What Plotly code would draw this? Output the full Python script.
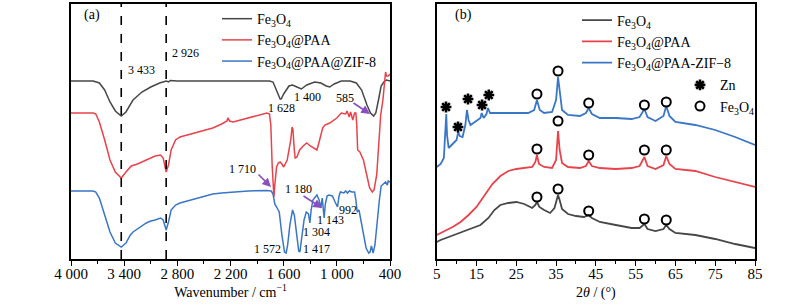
import plotly.graph_objects as go

# ---------------- FTIR data (panel a) ----------------
ftir_fe_wn = [4000, 3750, 3680, 3620, 3560, 3500, 3433, 3380, 3300, 3200, 3100, 3000, 2926, 2900, 2880, 2800,
              2000, 1760, 1720, 1680, 1640, 1628, 1600, 1540, 1500, 1450, 1400, 1340, 1250, 1180, 1120, 1080,
              1030, 950, 850, 780, 720, 660, 620, 585, 560, 530, 500, 470, 440, 400]
ftir_fe_t = [178, 178, 176, 169, 157, 148, 143, 147, 159, 167, 172, 176, 178, 177, 178.5, 178,
             178, 178, 177, 169, 160, 160, 165, 173, 174, 172, 170, 174, 177, 176, 173, 172,
             175, 178, 178, 176, 169, 154, 146, 143, 146, 159, 173, 177, 179, 178]

ftir_paa_wn = [4000, 3750, 3720, 3680, 3620, 3560, 3500, 3433, 3380, 3320, 3250, 3200, 3120, 3050, 2990, 2960,
               2926, 2900, 2870, 2820, 2770, 2650, 2545, 2400, 2300, 2240, 2230, 2210, 2170, 2000, 1900, 1790,
               1760, 1745, 1730, 1715, 1710, 1700, 1680, 1660, 1640, 1620, 1600, 1560, 1520, 1505, 1495, 1480,
               1470, 1450, 1420, 1380, 1340, 1300, 1260, 1225, 1200, 1160, 1135, 1080, 1000, 950, 900, 885,
               860, 845, 820, 800, 785, 775, 765, 740, 700, 660, 630, 600, 580, 550, 520, 505,
               480, 460, 450, 440, 420, 400]
ftir_paa_t = [146, 146, 145, 137, 119, 99, 87, 81, 87, 93, 95, 97, 101, 103, 104, 101,
              87, 94, 109, 119, 122, 125, 127, 131, 135, 138, 141, 138, 137, 141, 144, 146,
              145, 134, 94, 64, 62, 74, 92, 96, 97, 95, 92, 99, 119, 132, 129, 109,
              101, 102, 109, 113, 116, 113, 111, 109, 117, 131, 134, 136, 141, 146, 145, 148,
              142, 147, 139, 146, 146, 134, 109, 107, 99, 81, 71, 67, 69, 84, 119, 144,
              159, 184, 187, 183, 183, 185]

ftir_zif_wn = [4000, 3750, 3720, 3680, 3620, 3560, 3500, 3433, 3380, 3330, 3300, 3250, 3200, 3150, 3100, 3050,
               2990, 2960, 2926, 2900, 2870, 2820, 2770, 2650, 2545, 2400, 2300, 2170, 2000, 1800, 1740, 1720,
               1700, 1680, 1650, 1620, 1590, 1572, 1555, 1530, 1500, 1480, 1450, 1430, 1417, 1400, 1370, 1345,
               1320, 1304, 1290, 1270, 1240, 1225, 1200, 1180, 1165, 1155, 1143, 1130, 1110, 1090, 1050, 1020,
               992, 975, 960, 920, 900, 880, 860, 830, 800, 785, 770, 750, 740, 720, 700, 670,
               640, 625, 610, 590, 570, 550, 520, 500, 470, 450, 430, 420, 400]
ftir_zif_t = [68, 68, 67, 61, 44, 27, 16, 12, 16, 24, 27, 30, 33, 36, 38, 39,
              41, 39, 29, 37, 49, 54, 56, 59, 62, 65, 66, 67, 68, 68.5, 68, 65,
              55, 52, 47, 24, 7, 6, 14, 34, 49, 44, 19, 8, 7, 19, 39, 47,
              45, 36, 49, 59, 63, 64, 59, 51, 61, 54, 41, 55, 63, 64, 63, 57,
              52, 63, 67, 66, 68, 66, 68, 67, 67, 59, 47, 49, 44, 37, 24, 11,
              6, 7, 13, 6, 14, 34, 59, 73, 76, 77, 74, 78, 77]

ftir_tickvals = [4000, 3400, 2800, 2200, 1600, 1000, 400]
ftir_ticktext = ["4 000", "3 400", "2 800", "2 200", "1 600", "1 000", "400"]
ftir_minor = [3700, 3100, 2500, 1900, 1300, 700]
ftir_dashed = [3433, 2926]

# ---------------- XRD data (panel b) ----------------
xrd_fe_2t = [5, 6, 8, 10, 12, 14, 16, 18, 19.5, 21, 23, 25, 27, 29, 29.8, 30.2, 30.8, 32, 33.5, 34.6, 35.2, 35.5,
             35.9, 36.5, 38, 40, 42, 43.2, 44, 46, 50, 54, 56, 57.2, 58, 60, 62, 62.7, 63.5, 65, 70, 75, 80, 85]
xrd_fe_i = [17, 19, 22, 25, 28, 31, 34, 41, 49, 54, 56, 57, 55, 51, 54, 57, 52, 49, 46, 51, 61, 64,
            59, 50, 45, 43, 42, 44, 41, 37, 34, 31, 31, 35, 30, 28, 30, 34, 30, 26, 24, 20, 15, 11]

xrd_paa_2t = [5, 7, 9, 11, 13, 15, 17, 19, 21, 23, 25, 27, 29, 29.8, 30.2, 30.7, 32, 34, 35, 35.5, 35.9, 36.5,
              38, 41, 42.5, 43.2, 44, 46, 50, 54, 56, 57.2, 58, 60, 62, 62.7, 63.5, 65, 70, 75, 80, 85]
xrd_paa_i = [24, 28, 32, 37, 44, 52, 63, 75, 83, 88, 90, 91, 92, 97, 104, 95, 92, 91, 99, 128, 109, 96,
             92, 91, 93, 98, 93, 91, 90, 91, 93, 102, 93, 90, 94, 103, 95, 90, 88, 82, 77, 72]

xrd_zif_2t = [5, 6, 6.8, 7.2, 7.4, 7.6, 8, 9, 10, 10.4, 10.8, 11.5, 12.2, 12.6, 13, 13.5, 15, 16, 16.3, 16.8,
              17.5, 17.9, 18.4, 19, 22, 25, 28, 29.5, 30.2, 30.9, 32, 34, 35, 35.5, 35.9, 36.5, 38, 41, 42.5,
              43.2, 44, 46, 50, 54, 56, 57.2, 58, 60, 62, 62.7, 63.5, 65, 70, 75, 80, 85]
xrd_zif_i = [92, 95, 101, 134, 145, 124, 111, 115, 119, 127, 123, 122, 134, 149, 139, 134, 138, 141, 146, 141,
             145, 151, 146, 146, 146, 146, 146, 149, 159, 149, 146, 147, 159, 182, 167, 149, 144, 143, 146,
             151, 145, 141, 141, 140, 142, 150, 142, 138, 143, 153, 143, 137, 134, 129, 122, 114]

zn_2t = [7.34, 10.35, 12.87, 16.4, 18.1]
zn_i = [152, 132, 160, 154, 164]
fe_peak_2t = [30.2, 35.5, 43.2, 57.2, 62.7]
fe_mark_fe = [62, 70, 48, 40, 39]
fe_mark_paa = [110, 138, 104, 109, 109]
fe_mark_zif = [165, 188, 156, 154, 157]

xrd_tickvals = [5, 15, 25, 35, 45, 55, 65, 75, 85]
xrd_minor = [10, 20, 30, 40, 50, 60, 70, 80]

# ---------------- styles ----------------
C_BLACK = "#474747"
C_RED = "#e8434a"
C_BLUE = "#3a76c6"
C_PURPLE = "#8a4fbf"
FONT = "Liberation Serif"

fig = go.Figure()

names = ["Fe<sub>3</sub>O<sub>4</sub>", "Fe<sub>3</sub>O<sub>4</sub>@PAA", "Fe<sub>3</sub>O<sub>4</sub>@PAA@ZIF-8"]
for wn, t, c, n in [(ftir_fe_wn, ftir_fe_t, C_BLACK, names[0]),
                    (ftir_paa_wn, ftir_paa_t, C_RED, names[1]),
                    (ftir_zif_wn, ftir_zif_t, C_BLUE, names[2])]:
    fig.add_trace(go.Scatter(x=wn, y=t, mode="lines", line=dict(color=c, width=1.5),
                             name=n, legend="legend", xaxis="x", yaxis="y"))

names2 = ["Fe<sub>3</sub>O<sub>4</sub>", "Fe<sub>3</sub>O<sub>4</sub>@PAA", "Fe<sub>3</sub>O<sub>4</sub>@PAA-ZIF\u22128"]
for tt, i, c, n in [(xrd_fe_2t, xrd_fe_i, C_BLACK, names2[0]),
                    (xrd_paa_2t, xrd_paa_i, C_RED, names2[1]),
                    (xrd_zif_2t, xrd_zif_i, C_BLUE, names2[2])]:
    fig.add_trace(go.Scatter(x=tt, y=i, mode="lines", line=dict(color=c, width=1.8),
                             name=n, legend="legend2", xaxis="x2", yaxis="y2"))

fig.add_trace(go.Scatter(x=zn_2t, y=zn_i, mode="markers", name="Zn", legend="legend3",
                         marker=dict(symbol="asterisk", size=9, color="black",
                                     line=dict(color="black", width=2.6)),
                         xaxis="x2", yaxis="y2"))
fig.add_trace(go.Scatter(x=fe_peak_2t * 3, y=fe_mark_fe + fe_mark_paa + fe_mark_zif, mode="markers",
                         name="Fe<sub>3</sub>O<sub>4</sub>", legend="legend3",
                         marker=dict(symbol="circle-open", size=9, color="black",
                                     line=dict(color="black", width=2)),
                         xaxis="x2", yaxis="y2"))

# dashed guide lines
for wv in ftir_dashed:
    fig.add_shape(type="line", xref="x", yref="y domain", x0=wv, x1=wv, y0=0, y1=1,
                  line=dict(color="black", width=1.6, dash="dash"))

# peak labels
ann_font = dict(family=FONT, size=12, color="black")
labels = [
    ("3 433", 3385, 189, "left"), ("2 926", 2885, 206, "left"),
    ("1 400", 1336, 162, "center"), ("1 628", 1630, 151, "center"), ("585", 907, 161, "center"),
    ("1 710", 2059, 90, "center"), ("1 180", 1438, 70, "center"), ("1 143", 1077, 39.5, "center"),
    ("992", 874, 49, "center"), ("1 304", 1224, 27, "center"), ("1 572", 1777, 10, "center"),
    ("1 417", 1224, 10, "center"),
]
for txt, xx, yy, anc in labels:
    fig.add_annotation(x=xx, y=yy, xref="x", yref="y", text=txt, showarrow=False,
                       xanchor=anc, yanchor="middle", font=ann_font)

arrows = [(829, 157, 625, 145), (1901, 86, 1743, 72), (1393, 64, 1167, 51)]
for ax_, ay_, hx, hy in arrows:
    fig.add_annotation(x=hx, y=hy, ax=ax_, ay=ay_, xref="x", yref="y", axref="x", ayref="y",
                       text="", showarrow=True, arrowhead=2, arrowsize=1.1, arrowwidth=1.6,
                       arrowcolor=C_PURPLE)

fig.add_annotation(x=0.035, y=0.955, xref="x domain", yref="y domain", text="(a)", showarrow=False,
                   xanchor="left", yanchor="middle", font=dict(family=FONT, size=14, color="black"))
fig.add_annotation(x=0.05, y=0.955, xref="x2 domain", yref="y2 domain", text="(b)", showarrow=False,
                   xanchor="left", yanchor="middle", font=dict(family=FONT, size=14, color="black"))

axis_common = dict(showline=True, linecolor="black", linewidth=1.5, mirror=True, showgrid=False,
                   zeroline=False, ticks="outside", ticklen=5, tickwidth=1.3, tickcolor="black",
                   ticklabelstandoff=-5,
                   automargin=False, tickfont=dict(family=FONT, size=15, color="black"))
yaxis_common = dict(showline=True, linecolor="black", linewidth=1.5, mirror=True, showgrid=False,
                    zeroline=False, showticklabels=False, ticks="", range=[0, 255], automargin=False)

fig.update_layout(
    template="none",
    width=790, height=308, margin=dict(l=0, r=0, t=0, b=0, autoexpand=False),
    paper_bgcolor="white", plot_bgcolor="white",
    font=dict(family=FONT, color="black"),
    xaxis=dict(domain=[71 / 790, 390 / 790], range=[4000, 400], tickmode="array",
               tickvals=ftir_tickvals, ticktext=ftir_ticktext,
               minor=dict(tickmode="array", tickvals=ftir_minor, ticks="outside", ticklen=3,
                          tickwidth=1.2, tickcolor="black"),
               title=dict(text="Wavenumber / cm<sup>\u22121</sup>", font=dict(family=FONT, size=14),
                          standoff=6),
               anchor="y", **axis_common),
    yaxis=dict(domain=[1 - 259 / 308, 1 - 4 / 308], anchor="x", **yaxis_common),
    xaxis2=dict(domain=[436.7 / 790, 755 / 790], range=[5, 85], tickmode="array",
                tickvals=xrd_tickvals,
                minor=dict(tickmode="array", tickvals=xrd_minor, ticks="outside", ticklen=3,
                           tickwidth=1.2, tickcolor="black"),
                title=dict(text="2<i>\u03b8</i> / (\u00b0)", font=dict(family=FONT, size=14), standoff=6),
                anchor="y2", **axis_common),
    yaxis2=dict(domain=[1 - 259 / 308, 1 - 4 / 308], anchor="x2", **yaxis_common),
    legend=dict(x=217 / 790, y=0.99, bgcolor="rgba(0,0,0,0)",
                font=dict(family=FONT, size=14), itemwidth=30),
    legend2=dict(x=577 / 790, y=0.985, bgcolor="rgba(0,0,0,0)",
                 font=dict(family=FONT, size=14), itemwidth=30),
    legend3=dict(x=680 / 790, y=0.775, bgcolor="rgba(0,0,0,0)",
                 font=dict(family=FONT, size=14), itemwidth=30, tracegroupgap=0),
    showlegend=True,
)

fig.write_html("out.html", config={"displayModeBar": False},
               post_script="document.body.style.margin='0px';")
